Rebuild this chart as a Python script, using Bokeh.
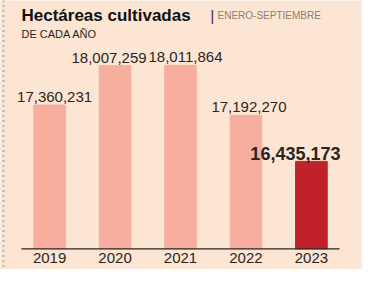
from bokeh.plotting import figure
from bokeh.models import ColumnDataSource, FactorRange, Range1d, Label, Span
from bokeh.core.properties import value
from bokeh.embed import file_html
from bokeh.resources import INLINE

# ---- data ----
YEARS = ["2019", "2020", "2021", "2022", "2023"]
VALUES = [17360231, 18007259, 18011864, 17192270, 16435173]
LABELS = ["17,360,231", "18,007,259", "18,011,864", "17,192,270", "16,435,173"]
TITLE = "Hectáreas cultivadas"
SUBTITLE_1 = "ENERO-SEPTIEMBRE"
SUBTITLE_2 = "DE CADA AÑO"

# ---- style ----
BG = "#fce6d3"
LIGHT = "#f8ae9f"
DARK = "#c0212b"
INK = "#2b2522"
GREY = "#8c7f72"
Y_BASE = 15_000_000
Y_MIN = 14_660_000
Y_TOP = 19_077_000
FONT = "Liberation Sans"

colors = [LIGHT] * 4 + [DARK]
weights = ["normal"] * 4 + ["bold"]
sizes = ["15px"] * 4 + ["18px"]
label_dx = [5, -6, 5, 3, -16]

src = ColumnDataSource(dict(year=YEARS, val=VALUES, lab=LABELS, color=colors,
                            weight=weights, size=sizes, dx=label_dx))

W, H = 362, 269
p = figure(width=W, height=H, output_backend="svg", toolbar_location=None,
           x_range=FactorRange(*YEARS, range_padding=0.25, range_padding_units="absolute"),
           y_range=Range1d(Y_MIN, Y_TOP),
           min_border=0, min_border_right=2)
p.axis.visible = False
p.grid.visible = False
p.outline_line_color = None
p.background_fill_color = BG
p.border_fill_color = BG

p.vbar(x="year", top="val", bottom=Y_BASE, width=0.483, color="color", source=src)

# value labels
p.text(x="year", y="val", text="lab", source=src, text_align="center",
       text_baseline="alphabetic", y_offset=-8, x_offset="dx",
       text_font=value(FONT), text_font_size="size", text_font_style="weight",
       text_color=INK)

# year labels under baseline
p.text(x="year", y=Y_BASE, text="year", source=src, text_align="center",
       text_baseline="top", y_offset=4, text_font=value(FONT),
       text_font_size="15px", text_color=INK)

# baseline
p.segment(x0=[0.07], x1=[4.93], y0=[Y_BASE], y1=[Y_BASE], line_color=INK, line_width=1.2)

# left dotted rule
p.add_layout(Span(location=3, location_units="screen", dimension="height",
                  line_color=GREY, line_width=2, line_dash="1 4"))

# title block
p.add_layout(Label(x=21, y=H - 15, x_units="screen", y_units="screen", text=TITLE,
                   text_font=FONT, text_font_style="bold", text_font_size="17px",
                   text_color="#111111", text_baseline="alphabetic"))
p.add_layout(Label(x=210, y=H - 15, x_units="screen", y_units="screen", text="|",
                   text_font=FONT, text_font_size="14px", text_color=INK,
                   text_baseline="alphabetic"))
p.add_layout(Label(x=217, y=H - 15, x_units="screen", y_units="screen", text=SUBTITLE_1,
                   text_font=FONT, text_font_size="10px", text_color=GREY,
                   text_baseline="alphabetic"))
p.add_layout(Label(x=21, y=H - 33, x_units="screen", y_units="screen", text=SUBTITLE_2,
                   text_font=FONT, text_font_size="11px", text_color=INK,
                   text_baseline="alphabetic"))

open("out.html", "w").write(file_html(p, INLINE))
